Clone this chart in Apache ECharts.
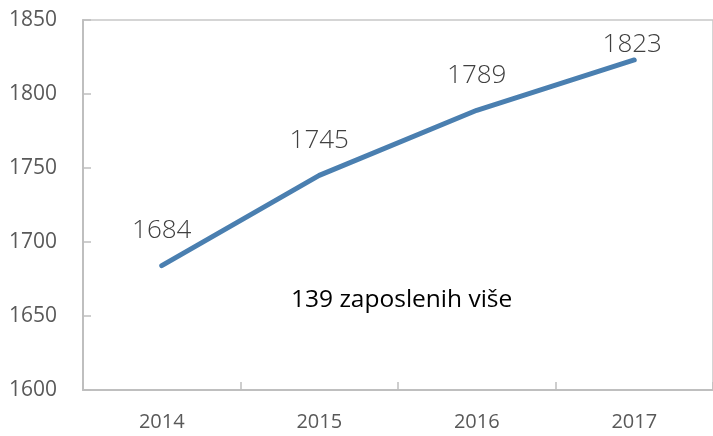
<!DOCTYPE html>
<html>
<head>
<meta charset="utf-8">
<script src="https://cdn.jsdelivr.net/npm/echarts@6/dist/echarts.min.js"></script>
<style>
  html, body { margin: 0; padding: 0; background: #fff; }
  #chart { width: 713px; height: 436px; }
</style>
</head>
<body>
<div id="chart"></div>
<script>
const years = ['2014', '2015', '2016', '2017']
const employees = [1684, 1745, 1789, 1823]
const yTicks = { min: 1600, max: 1850, step: 50 }
const note = '139 zaposlenih više'

const chart = echarts.init(document.getElementById('chart'), null, { renderer: 'canvas' })

const axisGray = '#bfbfbf'
const labelGray = '#595959'
const lineBlue = '#4a7fb0'

// last label sits lower, like in the original (kept inside the plot)
const seriesData = employees.map((v, i) => {
  if (i === employees.length - 1) {
    return { value: v, label: { offset: [-2, 20] } }
  }
  return v
})

const option = {
  animation: false,
  grid: {
    left: 83,
    top: 20,
    width: 633,
    height: 370,
    show: true,
    borderColor: '#c8c8c8',
    borderWidth: 1.5
  },
  xAxis: {
    type: 'category',
    data: years,
    boundaryGap: true,
    axisLine: { lineStyle: { color: axisGray, width: 2 } },
    axisTick: { show: true, inside: true, length: 8, alignWithLabel: false, lineStyle: { color: axisGray, width: 1.5 } },
    axisLabel: { color: labelGray, fontSize: 20, fontFamily: 'Open Sans', margin: 22 },
    splitLine: { show: false }
  },
  yAxis: {
    type: 'value',
    min: yTicks.min,
    max: yTicks.max,
    interval: yTicks.step,
    axisLine: { show: true, lineStyle: { color: axisGray, width: 2 } },
    axisTick: { show: true, inside: true, length: 8, lineStyle: { color: axisGray, width: 1.5 } },
    axisLabel: {
      color: labelGray, fontSize: 21, fontFamily: 'Open Sans', margin: 26,
      formatter: v => String(v)
    },
    splitLine: { show: false }
  },
  series: [{
    type: 'line',
    data: seriesData,
    symbol: 'circle',
    symbolSize: 2,
    showSymbol: true,
    itemStyle: { color: lineBlue },
    lineStyle: { color: lineBlue, width: 5, cap: 'round' },
    label: {
      show: true,
      position: 'top',
      distance: 21,
      color: '#404040',
      fontSize: 26,
      fontWeight: 300,
      fontFamily: 'Open Sans'
    }
  }],
  graphic: [{
    type: 'text',
    left: 291,
    top: 288,
    style: {
      text: note,
      fill: '#000',
      fontSize: 24.5,
      fontFamily: 'Open Sans'
    }
  }]
}

chart.setOption(option)
</script>
</body>
</html>
